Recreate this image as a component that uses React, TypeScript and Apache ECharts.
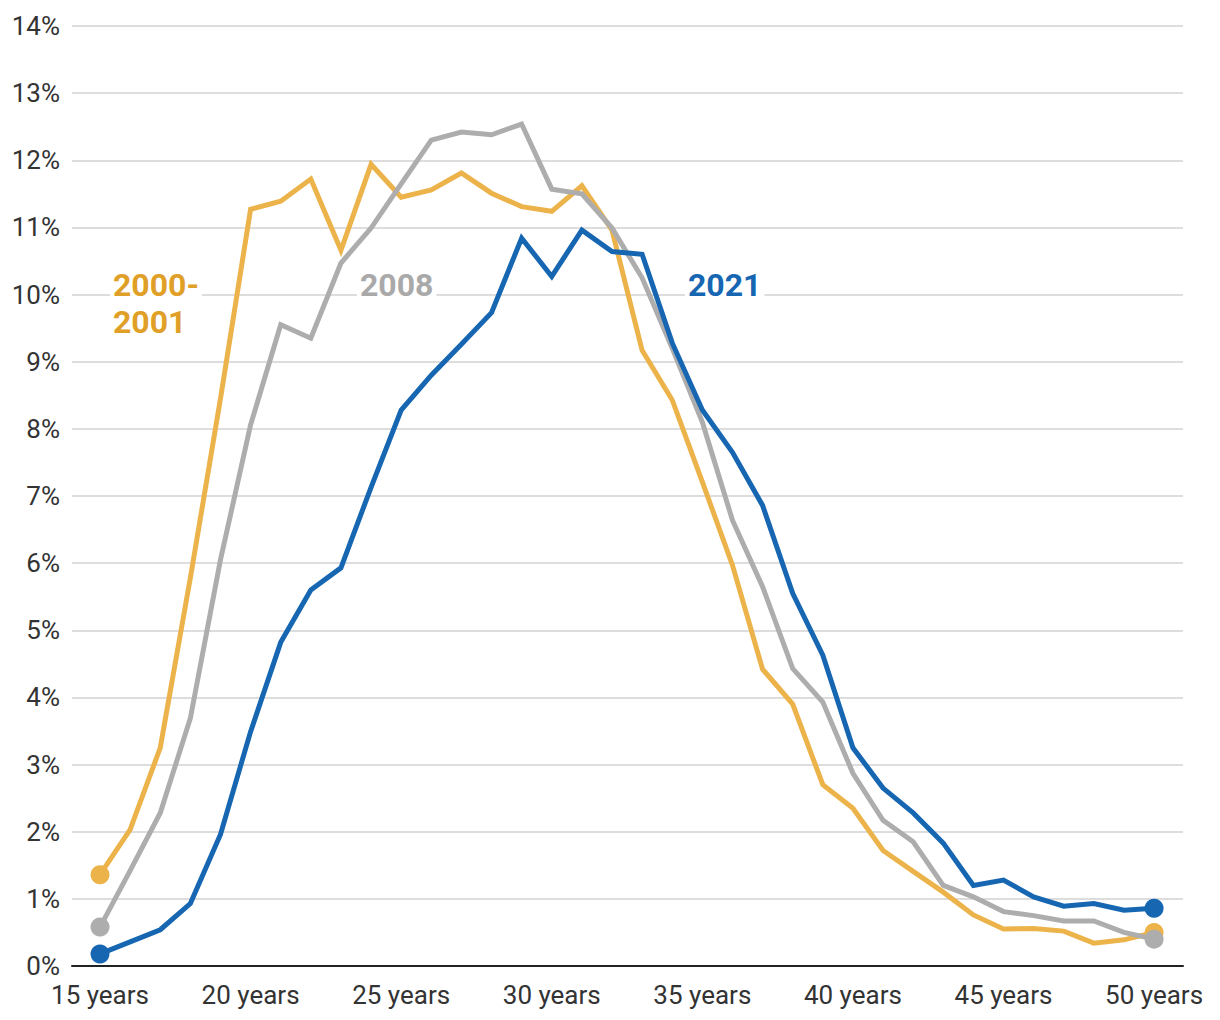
import React, { useEffect, useRef } from "react";
import * as echarts from "echarts";

const ages = [15, 16, 17, 18, 19, 20, 21, 22, 23, 24, 25, 26, 27, 28, 29, 30, 31, 32, 33, 34, 35, 36, 37, 38, 39, 40, 41, 42, 43, 44, 45, 46, 47, 48, 49, 50];

const s2000 = [1.36, 2.03, 3.25, 5.78, 8.45, 11.27, 11.39, 11.72, 10.66, 11.94, 11.45, 11.56, 11.81, 11.51, 11.31, 11.24, 11.62, 10.96, 9.17, 8.43, 7.21, 5.97, 4.42, 3.9, 2.7, 2.35, 1.72, 1.41, 1.1, 0.76, 0.55, 0.56, 0.52, 0.34, 0.39, 0.5];

const s2008 = [0.58, 1.42, 2.28, 3.69, 6.05, 8.06, 9.55, 9.35, 10.47, 10.99, 11.65, 12.3, 12.42, 12.38, 12.54, 11.57, 11.5, 10.99, 10.25, 9.2, 8.1, 6.64, 5.65, 4.43, 3.93, 2.87, 2.17, 1.85, 1.2, 1.03, 0.81, 0.75, 0.67, 0.67, 0.5, 0.4];

const s2021 = [0.18, 0.36, 0.54, 0.93, 1.96, 3.49, 4.82, 5.6, 5.93, 7.13, 8.28, 8.8, 9.26, 9.73, 10.84, 10.27, 10.96, 10.64, 10.6, 9.28, 8.28, 7.65, 6.86, 5.55, 4.63, 3.25, 2.65, 2.28, 1.83, 1.2, 1.28, 1.03, 0.89, 0.93, 0.83, 0.86];

const xTicks = [15, 20, 25, 30, 35, 40, 45, 50];
const yTicks = [0, 1, 2, 3, 4, 5, 6, 7, 8, 9, 10, 11, 12, 13, 14];

const seriesNames = ["2000-2001", "2008", "2021"];
const lineColors = ["#ECB34B", "#ADADAD", "#1666B2"];
const labelColors = ["#E0A027", "#A9A9A9", "#1666B2"];

const FONT = "Roboto, 'Liberation Sans', sans-serif";

export default function App() {
  const ref = useRef<HTMLDivElement>(null);

  useEffect(() => {
    if (!ref.current) return;
    const chart = echarts.init(ref.current, null, { renderer: "svg" });
    const allSeries = [s2000, s2008, s2021];
    const last = ages.length - 1;

    const option: any = {
      animation: false,
      backgroundColor: "#ffffff",
      grid: { left: 72, right: 37, top: 26, bottom: 54, containLabel: false },
      xAxis: {
        type: "value",
        min: 14.07,
        max: 50.96,
        axisLine: { show: true, onZero: false, lineStyle: { color: "#222222", width: 2 } },
        axisTick: { show: false },
        splitLine: { show: false },
        axisLabel: {
          customValues: xTicks,
          formatter: (v: number) => `${v} years`,
          color: "#333333",
          fontSize: 26,
          fontFamily: FONT,
          margin: 16,
        },
      },
      yAxis: {
        type: "value",
        min: 0,
        max: 14,
        interval: 1,
        axisLine: { show: false },
        axisTick: { show: false },
        splitLine: { show: true, lineStyle: { color: "#dddddd", width: 2 } },
        axisLabel: {
          customValues: yTicks,
          formatter: (v: number) => `${v}%`,
          color: "#333333",
          fontSize: 26,
          fontFamily: FONT,
          margin: 12,
        },
      },
      series: allSeries.map((vals, i) => ({
        name: seriesNames[i],
        type: "line",
        data: ages.map((a, j) => [a, vals[j]]),
        showSymbol: true,
        showAllSymbol: true,
        symbol: "circle",
        symbolSize: (_v: any, p: any) => (p.dataIndex === 0 || p.dataIndex === last ? 19 : 0),
        itemStyle: { color: lineColors[i] },
        lineStyle: { color: lineColors[i], width: 5, join: "miter" },
        z: 2 + i,
        silent: true,
      })),
      graphic: [
        {
          type: "text",
          left: 110,
          top: 266,
          z: 10,
          style: {
            text: "2000-\n2001",
            fill: labelColors[0],
            font: `bold 32px ${FONT}`,
            lineHeight: 37,
            backgroundColor: "#ffffff",
            padding: [0, 3],
          },
        },
        {
          type: "text",
          left: 357,
          top: 266,
          z: 10,
          style: {
            text: "2008",
            fill: labelColors[1],
            font: `bold 32px ${FONT}`,
            lineHeight: 37,
            backgroundColor: "#ffffff",
            padding: [0, 3],
          },
        },
        {
          type: "text",
          left: 685,
          top: 266,
          z: 10,
          style: {
            text: "2021",
            fill: labelColors[2],
            font: `bold 32px ${FONT}`,
            lineHeight: 37,
            backgroundColor: "#ffffff",
            padding: [0, 3],
          },
        },
      ],
    };
    chart.setOption(option);
    return () => chart.dispose();
  }, []);

  return (
    <div
      ref={ref}
      style={{ position: "fixed", left: 0, top: 0, width: 1220, height: 1020, background: "#fff" }}
    />
  );
}
